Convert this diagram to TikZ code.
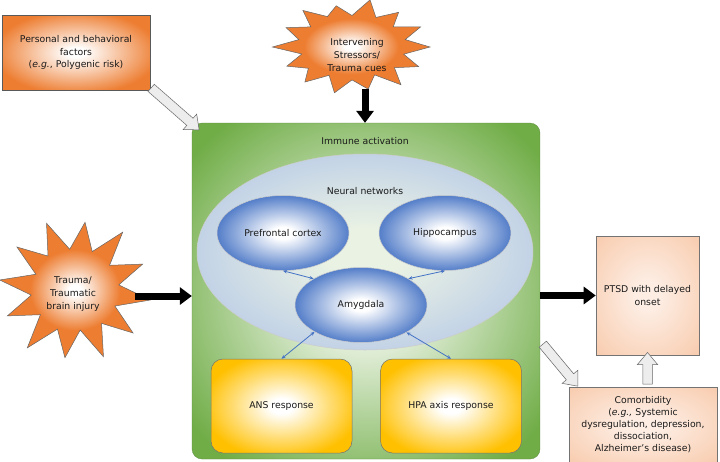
\documentclass[tikz,border=0pt]{standalone}
\usepackage{fontspec}
\setmainfont{DejaVu Sans}
\usetikzlibrary{shapes.geometric,shapes.arrows,arrows.meta,calc}

\definecolor{orangeout}{HTML}{ED7D31}
\definecolor{orangein}{HTML}{FFFFFF}
\definecolor{greenout}{HTML}{70AD47}
\definecolor{greenin}{HTML}{EEF5E8}
\definecolor{lblueout}{HTML}{B4C7E7}
\definecolor{lbluein}{HTML}{EAF2E4}
\definecolor{blueout}{HTML}{4472C4}
\definecolor{yellowout}{HTML}{FFC000}
\definecolor{peachout}{HTML}{F8CBAD}
\definecolor{peachin}{HTML}{FDEDE3}
\definecolor{txt}{HTML}{1A1A1A}
\definecolor{linkblue}{HTML}{4472C4}

\pgfdeclareradialshading{orangeglow}{\pgfpointorigin}{color(0bp)=(orangein); color(2bp)=(orangein); color(15bp)=(orangeout); color(50bp)=(orangeout)}
\pgfdeclareradialshading{boxglow}{\pgfpointorigin}{color(0bp)=(orangein); color(3bp)=(orangein); color(28bp)=(orangeout); color(50bp)=(orangeout)}
\pgfdeclareradialshading{greenglow}{\pgfpointorigin}{color(0bp)=(greenin); color(6bp)=(greenin); color(32bp)=(greenout); color(50bp)=(greenout)}
\pgfdeclareradialshading{lblueglow}{\pgfpointorigin}{color(0bp)=(lbluein); color(6bp)=(lbluein); color(32bp)=(lblueout); color(50bp)=(lblueout)}
\pgfdeclareradialshading{blueglow}{\pgfpointorigin}{color(0bp)=(white); color(4bp)=(white); color(27bp)=(blueout); color(50bp)=(blueout)}
\pgfdeclareradialshading{yellowglow}{\pgfpointorigin}{color(0bp)=(white); color(4bp)=(white); color(28bp)=(yellowout); color(50bp)=(yellowout)}
\pgfdeclareradialshading{peachglow}{\pgfpointorigin}{color(0bp)=(peachin); color(6bp)=(peachin); color(36bp)=(peachout); color(50bp)=(peachout)}

\newcommand\hollowarrow[2]{\path let \p1=($(#2)-(#1)$), \n1={atan2(\y1,\x1)}, \n2={veclen(\x1,\y1)} in node[hollowarr, minimum height=\n2, rotate=\n1] at ($(#1)!0.5!(#2)$) {};}

\begin{document}
\begin{tikzpicture}[x=1pt,y=-1pt,
  font=\fontsize{9.3}{12.8}\selectfont,
  lbl/.style={text=txt, align=center, inner sep=0pt},
  obox/.style={rectangle, draw=black!65, line width=0.6pt, shading=boxglow, text=txt, align=center},
  burst/.style={draw=black!60, line width=0.5pt, shading=orangeglow},
  blueell/.style={ellipse, draw=black!20, line width=0.5pt, shading=blueglow, minimum width=132pt, minimum height=75pt, text=txt, inner sep=0pt},
  ybox/.style={rectangle, rounded corners=12pt, draw=black!55, line width=0.5pt, shading=yellowglow, minimum width=141pt, minimum height=94pt, text=txt},
  pbox/.style={rectangle, draw=black!55, line width=0.6pt, shading=peachglow, text=txt, align=center},
  link/.style={draw=linkblue, line width=0.8pt, {Stealth[length=4pt,width=3.5pt]}-{Stealth[length=4pt,width=3.5pt]}},
  blk/.style={draw=black, line width=7pt, -{Triangle[length=12pt,width=17pt]}},
  hollowarr/.style={single arrow, draw=black!60, line width=0.5pt, fill=black!7, inner xsep=0pt, inner ysep=4.5pt, single arrow head extend=5.5pt, single arrow tip angle=80}
]
\useasboundingbox (0,0) rectangle (720,461);

% main green box
\node[rectangle, rounded corners=10pt, draw=greenout!80!black, line width=0.3pt, shading=greenglow, minimum width=348pt, minimum height=336pt] (immune) at (366,291) {};
\node[lbl] (immunelbl) at (365,141) {Immune activation};

% neural networks ellipse
\node[ellipse, draw=black!20, line width=0.5pt, shading=lblueglow, minimum width=336pt, minimum height=196pt, inner sep=0pt] (neural) at (365,252) {};
\node[lbl] (neurallbl) at (365,191) {Neural networks};

\node[blueell] (pfc) at (283,233) {Prefrontal cortex};
\node[blueell] (hip) at (445,233) {Hippocampus};
\node[blueell] (amy) at (361,305) {Amygdala};

\node[ybox] (ans) at (281.5,406) {ANS response};
\node[ybox] (hpa) at (451,406) {HPA axis response};

\draw[link] (pfc.south) -- (amy.151);
\draw[link] (hip.south) -- (amy.29);
\draw[link] (amy.210) -- (ans.north);
\draw[link] (amy.-31) -- (hpa.north);

% personal box
\node[obox, minimum width=148pt, minimum height=75pt] (personal) at (76,52.5) {Personal and behavioral\\factors\\(\textit{e.g.},~Polygenic risk)};

% intervening starburst
\begin{scope}[shift={(352,47)}]
\path[burst] (0:78 and 47) \foreach \a/\r in {13/0.68, 26/0.95, 39/0.7, 52/1.02, 64/0.66, 77/0.92, 90/0.7, 103/1.0, 116/0.67, 129/0.96, 141/0.72, 154/0.93, 167/0.66, 180/1.02, 193/0.7, 206/0.94, 219/0.68, 231/1.0, 244/0.72, 257/0.9, 270/0.67, 283/1.03, 296/0.7, 309/0.95, 321/0.68, 334/0.98, 347/0.7} { -- (\a:{78*\r} and {47*\r}) } -- cycle;
\end{scope}
\node[lbl] (intv) at (357,55) {Intervening\\Stressors/\\Trauma cues};

% trauma starburst
\begin{scope}[shift={(75,290)}]
\path[burst] (8:76 and 72) \foreach \a/\r in {23/0.57, 38/0.97, 53/0.58, 68/1.0, 83/0.56, 98/0.95, 113/0.59, 128/1.02, 143/0.57, 158/0.96, 173/0.58, 188/1.0, 203/0.56, 218/0.97, 233/0.59, 248/1.0, 263/0.57, 278/0.95, 293/0.58, 308/1.02, 323/0.57, 338/0.96, 353/0.58} { -- (\a:{76*\r} and {72*\r}) } -- cycle;
\end{scope}
\node[lbl] (tbi) at (73,294) {Trauma/\\Traumatic\\brain injury};

% PTSD and comorbidity
\node[pbox, minimum width=103pt, minimum height=119pt] (ptsd) at (647.5,295.5) {PTSD with delayed\\onset};
\node[pbox, minimum width=148pt, minimum height=76pt, font=\fontsize{9.3}{12}\selectfont] (comorb) at (643,425) {Comorbidity\\(\textit{e.g.,}~Systemic\\dysregulation, depression,\\dissociation,\\Alzheimer’s disease)};

% black arrows
\coordinate (intvout) at (365,89);
\draw[blk] (intvout) -- (intvout |- immune.north);
\coordinate (tbiout) at (135,296);
\draw[blk] (tbiout) -- (tbiout -| immune.west);
\draw[blk] (immune.east |- ptsd.west) -- (ptsd.west);

% hollow arrows
\coordinate (pa1) at (149,86);
\coordinate (pa2) at (197,128);
\hollowarrow{pa1}{pa2}
\coordinate (ca1) at (541,342);
\coordinate (ca2) at (576,384);
\hollowarrow{ca1}{ca2}
\coordinate (cu1) at (647.5,387);
\hollowarrow{cu1}{ptsd.south}
\end{tikzpicture}
\end{document}
